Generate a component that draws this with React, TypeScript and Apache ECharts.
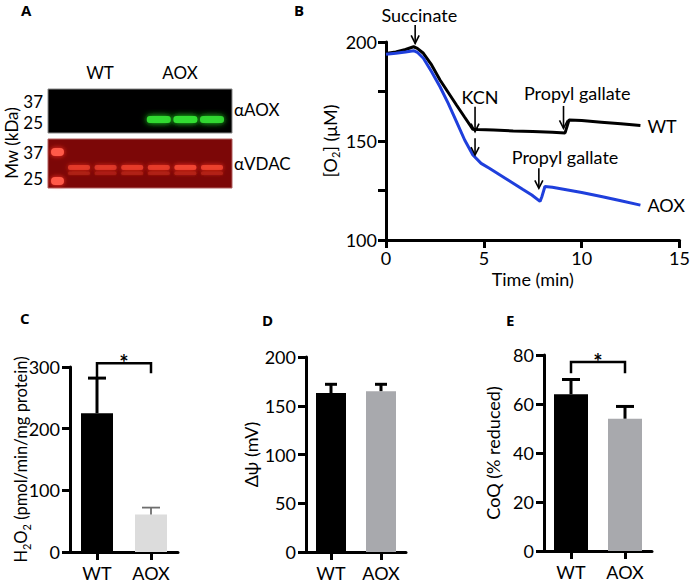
import React, { useEffect, useRef } from "react";
import * as echarts from "echarts";

// ---------- Panel B: O2 traces ----------
const timeWT = [0, 0.5, 1.0, 1.41, 1.6, 1.91, 2.33, 2.76, 3.18, 3.6, 4.02, 4.44, 4.7, 5.5, 6.5, 7.5, 8.5, 9.15, 9.35, 10, 11, 12, 13];
const o2WT = [194.2, 195, 196.2, 197.6, 196.8, 194.3, 188.4, 180.8, 174.5, 168.2, 162, 155.9, 155.8, 155.5, 155.1, 154.8, 154.4, 154.1, 160.6, 160.3, 159.5, 158.7, 157.8];
const timeAOX = [0, 0.5, 1.0, 1.41, 1.6, 1.91, 2.33, 2.76, 3.18, 3.6, 4.02, 4.44, 4.86, 5.28, 6.11, 7.0, 7.45, 7.87, 7.97, 8.12, 8.5, 9, 10, 11, 12, 13];
const o2AOX = [193.8, 194.3, 194.9, 195.6, 194.8, 191.8, 185, 177.4, 169, 159.8, 150.5, 142.9, 138.7, 136.2, 131.1, 125.5, 122.7, 119.5, 122, 127, 126.6, 125.8, 124, 122, 119.8, 117.6];
const traceNames = ["WT", "AOX"];

const arrowT = [1.49, 4.55, 4.55, 9.07, 7.81];
const arrowFrom = [208.6, 167.3, 151.4, 167.7, 136.2];
const arrowTo = [199.3, 154.7, 142.9, 156.4, 126.1];

const annotText = ["Succinate", "KCN", "Propyl gallate", "Propyl gallate"];
const annotT = [1.7, 4.8, 9.77, 9.15];
const annotY = [213.6, 172.4, 174.1, 142.1];

const timeTicks = { min: 0, max: 15, interval: 5 };
const o2Ticks = { min: 100, max: 200, interval: 25, labelEvery: 50 };

// ---------- Panels C, D, E ----------
const barCategories = ["WT", "AOX"];
const h2o2Mean = [225, 61];
const h2o2Err = [57, 11];
const dpsiMean = [163, 165];
const dpsiErr = [9, 7];
const coqMean = [64, 54];
const coqErr = [6, 5];

const h2o2Sig = [306, 283, 290]; // bracket level, left end, right end
const coqSig = [77.1, 72.6, 72.6];

// ---------- Panel A: blot ----------
const blotGroups = ["WT", "AOX"];
const blotLanes = ["WT", "WT", "WT", "AOX", "AOX", "AOX"];
const aoxSignal = [0, 0, 0, 0.95, 1, 0.92];
const vdacSignal = [0.75, 0.7, 0.8, 0.8, 1, 0.88];
const markerKDa = ["37", "25"];
const blotAntibodies = ["\u03b1AOX", "\u03b1VDAC"];

const FONT = "Lato, 'Open Sans', sans-serif";
const FS = 18;

function axisLine() {
  return { show: true, onZero: false, lineStyle: { color: "#000", width: 3 } };
}
function axisTick(extra: any = {}) {
  return { show: true, length: 8, lineStyle: { color: "#000", width: 3 }, ...extra };
}
function axisLabel(extra: any = {}) {
  return { color: "#000", fontSize: FS, fontFamily: FONT, ...extra };
}
function richName(fs: number) {
  return {
    fontSize: fs,
    fontFamily: FONT,
    color: "#000",
    lineHeight: 22,
    rich: { s: { fontSize: 11, lineHeight: 11, verticalAlign: "bottom", fontFamily: FONT, color: "#000" } },
  };
}

function errorSeries(ax: number, means: number[], errs: number[], colors: string[], widths: number[], cap: number) {
  return {
    type: "custom",
    xAxisIndex: ax,
    yAxisIndex: ax,
    z: 3,
    silent: true,
    encode: { x: 0, y: 2 },
    data: means.map((m, i) => [i, m, m + errs[i]]),
    renderItem: (params: any, api: any) => {
      const i = api.value(0);
      const b = api.coord([i, api.value(1)]);
      const t = api.coord([i, api.value(2)]);
      const st = { stroke: colors[params.dataIndex], lineWidth: widths[params.dataIndex] };
      return {
        type: "group",
        children: [
          { type: "line", shape: { x1: b[0], y1: b[1], x2: t[0], y2: t[1] }, style: st },
          { type: "line", shape: { x1: t[0] - cap, y1: t[1], x2: t[0] + cap, y2: t[1] }, style: st },
        ],
      };
    },
  };
}

function bracketSeries(ax: number, sig: number[]) {
  return {
    type: "custom",
    xAxisIndex: ax,
    yAxisIndex: ax,
    z: 4,
    silent: true,
    encode: { x: 0, y: 2 },
    itemStyle: { color: "#000" },
    data: [[0, 1, sig[0], sig[1], sig[2]]],
    renderItem: (params: any, api: any) => {
      const l0 = api.coord([0, api.value(3)]);
      const lt = api.coord([0, api.value(2)]);
      const rt = api.coord([1, api.value(2)]);
      const r0 = api.coord([1, api.value(4)]);
      return {
        type: "group",
        children: [
          {
            type: "polyline",
            shape: { points: [l0, lt, rt, r0] },
            style: { stroke: "#000", lineWidth: 2.5, fill: null },
          },
          {
            type: "text",
            x: (lt[0] + rt[0]) / 2,
            y: lt[1] - 1,
            style: { text: "*", fontSize: 22, fontWeight: "bold", fontFamily: FONT, fill: "#000", align: "center", verticalAlign: "middle" },
          },
        ],
      };
    },
  };
}

function barSeries(ax: number, means: number[], colors: string[], width: number) {
  return {
    type: "bar",
    xAxisIndex: ax,
    yAxisIndex: ax,
    barWidth: width,
    silent: true,
    data: means.map((v, i) => ({ value: v, itemStyle: { color: colors[i] } })),
  };
}

function catXAxis(grid: number) {
  return {
    gridIndex: grid,
    type: "category",
    data: barCategories,
    axisLine: axisLine(),
    axisTick: axisTick({ alignWithLabel: true }),
    axisLabel: axisLabel({ margin: 12 }),
    splitLine: { show: false },
  };
}

function valYAxis(grid: number, max: number, interval: number, name: string, nameGap: number, nameFs: number) {
  return {
    gridIndex: grid,
    type: "value",
    min: 0,
    max,
    interval,
    name,
    nameLocation: "middle",
    nameGap,
    nameMoveOverlap: false,
    nameTextStyle: richName(nameFs),
    axisLine: axisLine(),
    axisTick: axisTick(),
    axisLabel: axisLabel({ margin: 10 }),
    splitLine: { show: false },
  };
}

function blotGraphics() {
  const els: any[] = [];
  const left = 48, right = 232;
  const lane0 = 79, laneStep = 26.6;
  els.push({ type: "rect", shape: { x: left, y: 89, width: right - left, height: 44 }, style: { fill: "#000", stroke: "#888", lineWidth: 1 } });
  els.push({ type: "rect", shape: { x: left, y: 139, width: right - left, height: 49 }, style: { fill: "#7c0707", stroke: "#b06060", lineWidth: 1 } });
  blotLanes.forEach((g, i) => {
    const cx = lane0 + i * laneStep;
    if (aoxSignal[i] > 0) {
      els.push({
        type: "rect",
        shape: { x: cx - 12, y: 116, width: 24, height: 7, r: 3 },
        style: { fill: "#33dd33", opacity: aoxSignal[i], shadowBlur: 6, shadowColor: "#22ff22" },
      });
    }
    els.push({
      type: "rect",
      shape: { x: cx - 11, y: 165, width: 22, height: 5, r: 2 },
      style: { fill: "#f04430", opacity: vdacSignal[i], shadowBlur: 5, shadowColor: "#ff3020" },
    });
    els.push({
      type: "rect",
      shape: { x: cx - 11, y: 171.5, width: 22, height: 3.5, r: 1.5 },
      style: { fill: "#b82418", opacity: vdacSignal[i] * 0.8, shadowBlur: 3, shadowColor: "#c02818" },
    });
  });
  [152, 181].forEach((y) => {
    els.push({ type: "rect", shape: { x: 51, y: y - 4, width: 13, height: 8, r: 4 }, style: { fill: "#ff5a48", shadowBlur: 5, shadowColor: "#ff3020" } });
  });
  blotGroups.forEach((g, i) => {
    els.push({ type: "text", x: [100, 180][i], y: 72, style: { text: g, fontSize: 17, fontFamily: FONT, fill: "#000", align: "center", verticalAlign: "middle" } });
  });
  const markerY = [[101, 122], [152, 178]];
  markerY.forEach((ys) => {
    ys.forEach((y, k) => {
      els.push({ type: "text", x: 43, y, style: { text: markerKDa[k], fontSize: 17, fontFamily: FONT, fill: "#000", align: "right", verticalAlign: "middle" } });
    });
  });
  blotAntibodies.forEach((t, i) => {
    els.push({ type: "text", x: 234, y: [109, 163][i], style: { text: t, fontSize: 17, fontFamily: FONT, fill: "#000", align: "left", verticalAlign: "middle" } });
  });
  els.push({ type: "text", x: 11, y: 143, rotation: Math.PI / 2, style: { text: "Mw (kDa)", fontSize: 17, fontFamily: FONT, fill: "#000", align: "center", verticalAlign: "middle" } });
  return els;
}

function panelLetters() {
  const letters = [["A", 21, 2], ["B", 294, 2], ["C", 20, 310], ["D", 262, 312], ["E", 506, 312]];
  return letters.map(([t, x, y]) => ({
    type: "text",
    x,
    y,
    style: { text: t, fontSize: 15, fontWeight: "bold", fontFamily: "'Open Sans', sans-serif", fill: "#000", align: "left", verticalAlign: "top" },
  }));
}

const option: any = {
  animation: false,
  backgroundColor: "#fff",
  textStyle: { fontFamily: FONT },
  grid: [
    { left: 386, top: 42, width: 299, height: 198 },
    { left: 70, top: 367, width: 108, height: 185 },
    { left: 306, top: 357, width: 100, height: 195 },
    { left: 544, top: 355, width: 108, height: 196 },
  ],
  xAxis: [
    {
      gridIndex: 0,
      type: "value",
      min: timeTicks.min,
      max: timeTicks.max,
      interval: timeTicks.interval,
      name: "Time (min)",
      nameLocation: "middle",
      nameGap: 30,
      nameMoveOverlap: false,
      nameTextStyle: { fontSize: FS, fontFamily: FONT, color: "#000" },
      axisLine: axisLine(),
      axisTick: axisTick(),
      axisLabel: axisLabel({ margin: 9 }),
      splitLine: { show: false },
    },
    catXAxis(1),
    catXAxis(2),
    catXAxis(3),
  ],
  yAxis: [
    {
      gridIndex: 0,
      type: "value",
      min: o2Ticks.min,
      max: o2Ticks.max,
      interval: o2Ticks.interval,
      name: "[O{s|2}] (\u03bcM)",
      nameLocation: "middle",
      nameGap: 45,
      nameMoveOverlap: false,
      nameTextStyle: richName(FS),
      axisLine: axisLine(),
      axisTick: axisTick(),
      axisLabel: axisLabel({ margin: 9, formatter: (v: number) => (v % o2Ticks.labelEvery === 0 ? String(v) : "") }),
      splitLine: { show: false },
    },
    valYAxis(1, 300, 100, "H{s|2}O{s|2} (pmol/min/mg protein)", 38, 16.5),
    valYAxis(2, 200, 50, "\u0394\u03c8 (mV)", 44, FS),
    valYAxis(3, 80, 20, "CoQ (% reduced)", 40, FS),
  ],
  series: [
    {
      name: traceNames[0],
      type: "line",
      xAxisIndex: 0,
      yAxisIndex: 0,
      showSymbol: false,
      silent: true,
      lineStyle: { color: "#000", width: 3 },
      itemStyle: { color: "#000" },
      data: timeWT.map((t, i) => [t, o2WT[i]]),
      endLabel: { show: true, formatter: "{a}", fontSize: FS, fontFamily: FONT, color: "#000", distance: 7 },
    },
    {
      name: traceNames[1],
      type: "line",
      xAxisIndex: 0,
      yAxisIndex: 0,
      showSymbol: false,
      silent: true,
      lineStyle: { color: "#1f3fdc", width: 3 },
      itemStyle: { color: "#1f3fdc" },
      data: timeAOX.map((t, i) => [t, o2AOX[i]]),
      endLabel: { show: true, formatter: "{a}", fontSize: FS, fontFamily: FONT, color: "#000", distance: 7 },
    },
    {
      type: "custom",
      xAxisIndex: 0,
      yAxisIndex: 0,
      silent: true,
      z: 5,
      data: arrowT.map((t, i) => [t, arrowFrom[i], arrowTo[i]]),
      renderItem: (params: any, api: any) => {
        const a = api.coord([api.value(0), api.value(1)]);
        const b = api.coord([api.value(0), api.value(2)]);
        const st = { stroke: "#000", lineWidth: 1.6, fill: null };
        return {
          type: "group",
          children: [
            { type: "line", shape: { x1: a[0], y1: a[1], x2: b[0], y2: b[1] }, style: st },
            { type: "polyline", shape: { points: [[b[0] - 4, b[1] - 8], [b[0], b[1]], [b[0] + 4, b[1] - 8]] }, style: st },
          ],
        };
      },
    },
    {
      type: "custom",
      xAxisIndex: 0,
      yAxisIndex: 0,
      silent: true,
      z: 5,
      data: annotT.map((t, i) => [t, annotY[i], i]),
      renderItem: (params: any, api: any) => {
        const p = api.coord([api.value(0), api.value(1)]);
        return {
          type: "text",
          x: p[0],
          y: p[1],
          style: { text: annotText[params.dataIndex], fontSize: FS, fontFamily: FONT, fill: "#000", align: "center", verticalAlign: "middle" },
        };
      },
    },
    // C
    barSeries(1, h2o2Mean, ["#000", "#dcdcdc"], 32),
    errorSeries(1, h2o2Mean, h2o2Err, ["#000", "#6e6e6e"], [3, 1.8], 9),
    bracketSeries(1, h2o2Sig),
    // D
    barSeries(2, dpsiMean, ["#000", "#a8a9ad"], 30),
    errorSeries(2, dpsiMean, dpsiErr, ["#000", "#000"], [3, 3], 6),
    // E
    barSeries(3, coqMean, ["#000", "#a8a9ad"], 34),
    errorSeries(3, coqMean, coqErr, ["#000", "#000"], [3, 3], 9),
    bracketSeries(3, coqSig),
  ],
  graphic: [...blotGraphics(), ...panelLetters()],
};

export default function App() {
  const ref = useRef<HTMLDivElement>(null);
  useEffect(() => {
    const chart = echarts.init(ref.current!, null, { renderer: "svg" });
    chart.setOption(option);
    return () => chart.dispose();
  }, []);
  return (
    <div
      ref={ref}
      style={{ position: "fixed", left: 0, top: 0, width: 693, height: 584, background: "#fff" }}
    />
  );
}
